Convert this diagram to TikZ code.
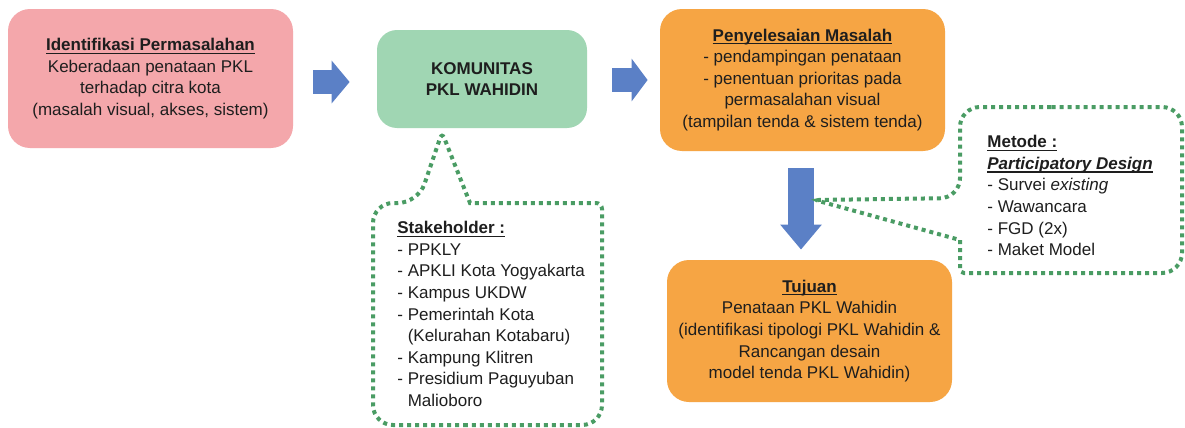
\documentclass[tikz,border=0pt]{standalone}
\usepackage{fontspec}
\setmainfont{Liberation Sans}
\usetikzlibrary{arrows.meta,calc}
\definecolor{pinkbox}{HTML}{F4A7AB}
\definecolor{greenbox}{HTML}{A0D6B3}
\definecolor{orangebox}{HTML}{F6A544}
\definecolor{arrowblue}{HTML}{5B80C6}
\definecolor{dotgreen}{HTML}{4A9C64}
\definecolor{txt}{HTML}{1E1E1E}
\newcommand\ulx[1]{\setbox0\hbox{#1}\rlap{\rule[-1.6pt]{\wd0}{0.6pt}}\box0}
\begin{document}
\begin{tikzpicture}[x=0.5pt,y=-0.5pt,
  txtfont/.style={text=txt, font=\fontsize{8.5}{10.8}\selectfont},
  box/.style={txtfont, rounded corners=11pt, inner sep=0pt, align=center},
  listtext/.style={txtfont, inner sep=0pt, align=left, anchor=north west},
  bigarrow/.style={draw=arrowblue, line width=#1},
  calloutline/.style={draw=dotgreen, line width=2pt, dash pattern=on 2pt off 2pt}]
\path[use as bounding box, fill=white] (0,0) rectangle (1185,428);

\node[box, fill=pinkbox, minimum width=142.5pt, minimum height=69.5pt] (ident) at (150.5,78.5)
  {\ulx{\textbf{Identifikasi Permasalahan}}\\Keberadaan penataan PKL\\terhadap citra kota\\(masalah visual, akses, sistem)};
\node[box, fill=greenbox, rounded corners=10pt, minimum width=105pt, minimum height=49pt] (kom) at (482,79)
  {\textbf{KOMUNITAS}\\\textbf{PKL WAHIDIN}};
\node[box, fill=orangebox, minimum width=142.5pt, minimum height=71pt] (peny) at (802.5,80)
  {\ulx{\textbf{Penyelesaian Masalah}}\\- pendampingan penataan\\- penentuan prioritas pada\\permasalahan visual\\(tampilan tenda \& sistem tenda)};
\node[box, fill=orangebox, minimum width=142.5pt, minimum height=71pt] (tuj) at (809.5,331)
  {\ulx{\textbf{Tujuan}}\\Penataan PKL Wahidin\\(identifikasi tipologi PKL Wahidin \&\\Rancangan desain\\model tenda PKL Wahidin)};

% arrows
\draw[bigarrow=12pt, -{Triangle[length=9pt,width=21pt]}, shorten <=10pt, shorten >=13.5pt]
  (ident.east |- 0,82) -- (kom.west |- 0,82);
\draw[bigarrow=12pt, -{Triangle[length=8pt,width=21pt]}, shorten <=12.5pt, shorten >=6pt]
  (kom.east |- 0,80) -- (peny.west |- 0,80);
\draw[bigarrow=13pt, -{Triangle[length=12.5pt,width=20pt]}, shorten <=8.5pt, shorten >=5pt]
  (peny.south -| 801,0) -- (tuj.north -| 801,0);

% stakeholder callout
\coordinate (stktip) at ($(kom.south)+(-40,4)$);
\draw[calloutline] (487,425) [rounded corners=10pt] -- (373,425) -- (373,203) -- (418,203)
  [rounded corners=3pt] -- (stktip) [sharp corners] -- (470,203)
  [rounded corners=3pt] -- (602,203) [rounded corners=10pt] -- (602,425) -- cycle;
\node[listtext] (stk) at (397,221)
  {\ulx{\textbf{Stakeholder :}}\\- PPKLY\\- APKLI Kota Yogyakarta\\- Kampus UKDW\\- Pemerintah Kota\\\hphantom{- }(Kelurahan Kotabaru)\\- Kampung Klitren\\- Presidium Paguyuban\\\hphantom{- }Malioboro};

% metode callout
\coordinate (mtip) at (815,200);
\draw[calloutline] (1071,107) [rounded corners=10pt] -- (960,107) -- (960,198)
  [rounded corners=2pt] -- (mtip) [sharp corners] -- (960,240)
  [rounded corners=2pt] -- (960,273) [rounded corners=10pt] -- (1182,273) -- (1182,107) -- cycle;
\node[listtext] (met) at (987,135)
  {\ulx{\textbf{Metode :}}\\\ulx{\textbf{\textit{Participatory Design}}}\\- Survei \textit{existing}\\- Wawancara\\- FGD (2x)\\- Maket Model};
\end{tikzpicture}
\end{document}
